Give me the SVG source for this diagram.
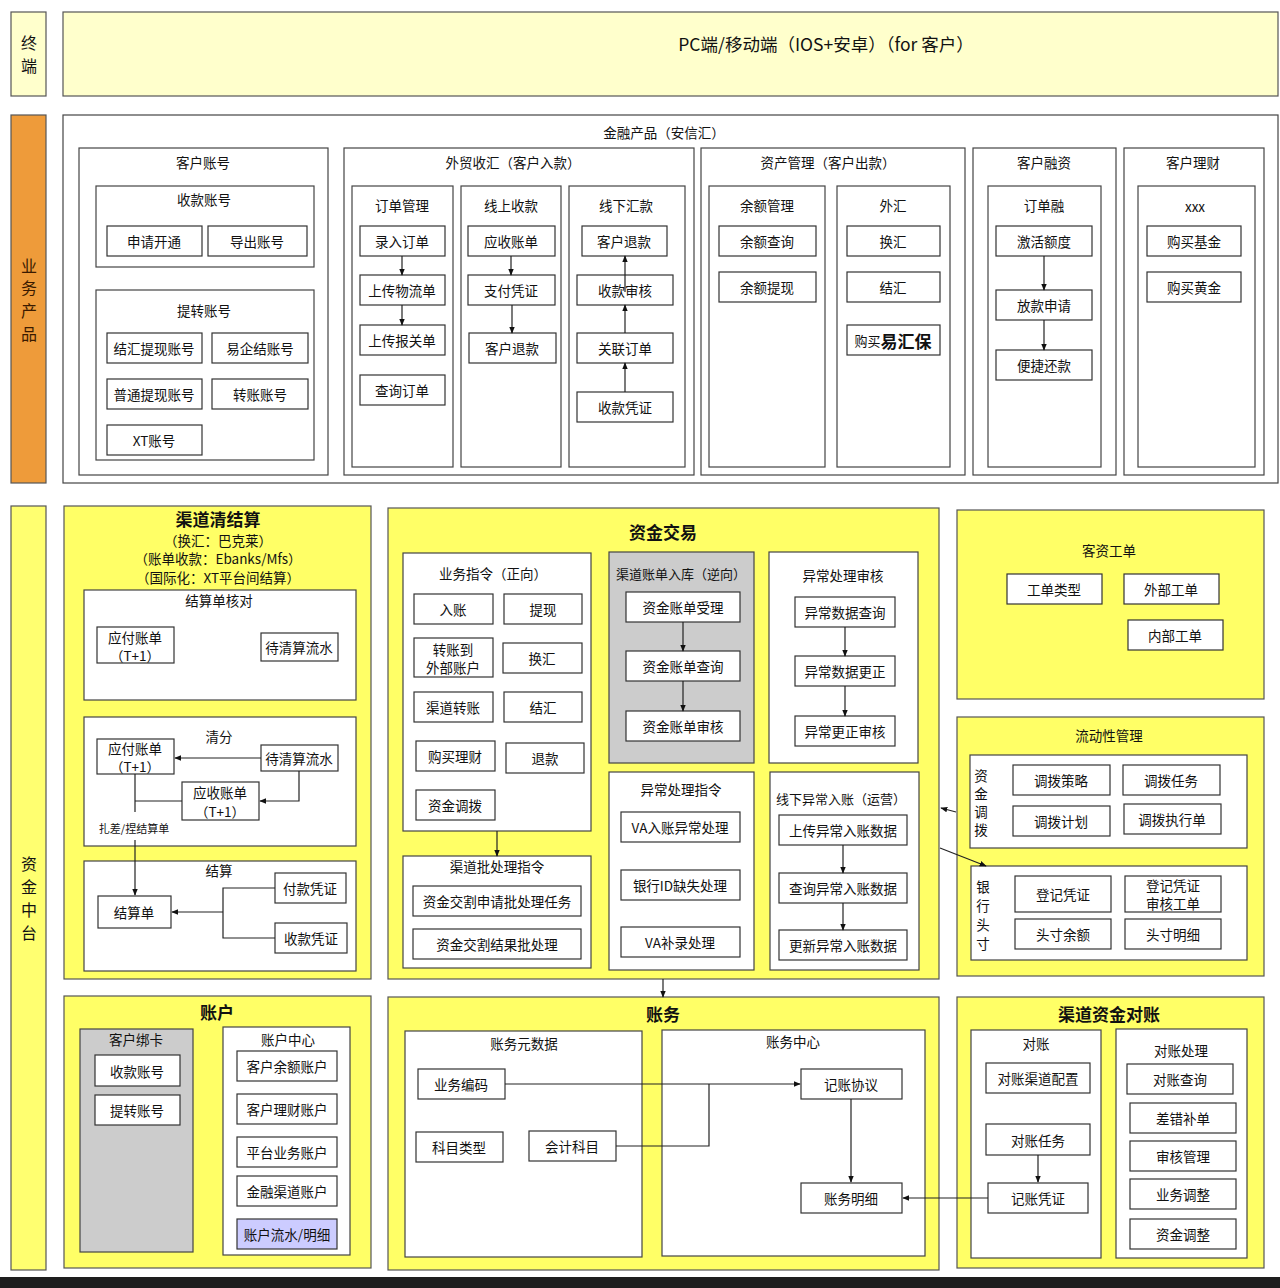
<svg xmlns="http://www.w3.org/2000/svg" width="1280" height="1288" viewBox="0 0 1280 1288">
<defs>
<marker id="ah" viewBox="0 0 10 10" refX="9" refY="5" markerWidth="7" markerHeight="7" orient="auto-start-reverse" markerUnits="userSpaceOnUse"><path d="M0,1 L10,5 L0,9 z" fill="#111"/></marker>
<style>
text{font-family:"Noto Sans CJK SC","Liberation Sans",sans-serif;fill:#111;text-anchor:middle;dominant-baseline:central}
.n{fill:#fff;stroke:#333;stroke-width:1.2}
.w{fill:#fff;stroke:#444;stroke-width:1.2}
.y{fill:#FFFF66;stroke:#555;stroke-width:1.2}
.g{fill:#CCCCCC;stroke:#444;stroke-width:1.2}
.l{font-size:13.5px}
.h{font-size:13.5px}
.big{font-size:17px;font-weight:bold}
.c{fill:none;stroke:#222;stroke-width:1.2;marker-end:url(#ah)}
.cl{fill:none;stroke:#222;stroke-width:1.2}
</style>
</defs>
<rect width="1280" height="1288" fill="#fff"/>

<!-- lane labels -->
<g id="lane-terminal"><rect x="11" y="12" width="35" height="84" fill="#FFFFCC" stroke="#555" stroke-width="1.2"/><text x="29" y="42" style="font-size:16px">终</text><text x="29" y="65" style="font-size:16px">端</text></g>
<g id="lane-business"><rect x="11" y="115" width="35" height="368" fill="#EE9B3A" stroke="#555" stroke-width="1.2"/><text x="29" y="265" style="font-size:16px;fill:#3a1a00">业</text><text x="29" y="287" style="font-size:16px;fill:#3a1a00">务</text><text x="29" y="310" style="font-size:16px;fill:#3a1a00">产</text><text x="29" y="333" style="font-size:16px;fill:#3a1a00">品</text></g>
<g id="lane-fund"><rect x="11" y="506" width="35" height="764" fill="#FFFF70" stroke="#555" stroke-width="1.2"/><text x="29" y="863" style="font-size:16px">资</text><text x="29" y="886" style="font-size:16px">金</text><text x="29" y="909" style="font-size:16px">中</text><text x="29" y="932" style="font-size:16px">台</text></g>

<!-- terminal -->
<g id="terminal"><rect x="63" y="12" width="1215" height="84" fill="#FFFFCC" stroke="#555" stroke-width="1.2"/><text x="826" y="43" style="font-size:17.5px">PC端/移动端（IOS+安卓）（for 客户）</text></g>

<!-- business products -->
<g id="fin-products"><rect x="63" y="115" width="1215" height="368" class="w" stroke="#777"/><text x="664" y="132" class="h">金融产品（安信汇）</text></g>

<g id="cust-account"><rect x="79" y="148" width="249" height="327" class="w"/><text x="203" y="162" class="h">客户账号</text></g>
<g id="recv-account"><rect x="96" y="186" width="218" height="81" class="w"/><text x="204" y="199" class="h">收款账号</text></g>
<g id="n-apply"><rect x="107" y="226" width="95" height="30" class="n"/><text x="154" y="241" class="l">申请开通</text></g>
<g id="n-export"><rect x="208" y="226" width="99" height="30" class="n"/><text x="257" y="241" class="l">导出账号</text></g>
<g id="withdraw-account"><rect x="96" y="290" width="218" height="170" class="w"/><text x="204" y="310" class="h">提转账号</text></g>
<g id="n-jhtx"><rect x="107" y="333" width="95" height="30" class="n"/><text x="154" y="348" class="l">结汇提现账号</text></g>
<g id="n-yqj"><rect x="212" y="333" width="96" height="30" class="n"/><text x="260" y="348" class="l">易企结账号</text></g>
<g id="n-pttx"><rect x="107" y="379" width="95" height="30" class="n"/><text x="154" y="394" class="l">普通提现账号</text></g>
<g id="n-zz"><rect x="212" y="379" width="96" height="30" class="n"/><text x="260" y="394" class="l">转账账号</text></g>
<g id="n-xt"><rect x="107" y="425" width="95" height="30" class="n"/><text x="154" y="440" class="l">XT账号</text></g>

<g id="foreign-trade"><rect x="344" y="148" width="350" height="327" class="w"/><text x="513" y="162" class="h">外贸收汇（客户入款）</text></g>
<g id="order-mgmt"><rect x="352" y="186" width="101" height="281" class="w"/><text x="402" y="205" class="h">订单管理</text></g>
<g id="n-lrdd"><rect x="360" y="226" width="85" height="30" class="n"/><text x="402" y="241" class="l">录入订单</text></g>
<g id="n-scwl"><rect x="360" y="275" width="85" height="30" class="n"/><text x="402" y="290" class="l">上传物流单</text></g>
<g id="n-scbg"><rect x="360" y="325" width="85" height="30" class="n"/><text x="402" y="340" class="l">上传报关单</text></g>
<g id="n-cxdd"><rect x="360" y="375" width="85" height="30" class="n"/><text x="402" y="390" class="l">查询订单</text></g>
<g id="online-recv"><rect x="461" y="186" width="100" height="281" class="w"/><text x="511" y="205" class="h">线上收款</text></g>
<g id="n-yszd"><rect x="468" y="226" width="87" height="30" class="n"/><text x="511" y="241" class="l">应收账单</text></g>
<g id="n-zfpz"><rect x="468" y="275" width="87" height="30" class="n"/><text x="511" y="290" class="l">支付凭证</text></g>
<g id="n-khtk1"><rect x="469" y="333" width="87" height="30" class="n"/><text x="512" y="348" class="l">客户退款</text></g>
<g id="offline-remit"><rect x="569" y="186" width="116" height="281" class="w"/><text x="626" y="205" class="h">线下汇款</text></g>
<g id="n-khtk2"><rect x="582" y="226" width="85" height="30" class="n"/><text x="624" y="241" class="l">客户退款</text></g>
<g id="n-sksh"><rect x="577" y="275" width="96" height="30" class="n"/><text x="625" y="290" class="l">收款审核</text></g>
<g id="n-gldd"><rect x="577" y="333" width="96" height="30" class="n"/><text x="625" y="348" class="l">关联订单</text></g>
<g id="n-skpz"><rect x="577" y="392" width="96" height="30" class="n"/><text x="625" y="407" class="l">收款凭证</text></g>

<g id="asset-mgmt"><rect x="701" y="148" width="264" height="327" class="w"/><text x="828" y="162" class="h">资产管理（客户出款）</text></g>
<g id="balance-mgmt"><rect x="709" y="186" width="116" height="281" class="w"/><text x="767" y="205" class="h">余额管理</text></g>
<g id="n-yecx"><rect x="719" y="226" width="97" height="30" class="n"/><text x="767" y="241" class="l">余额查询</text></g>
<g id="n-yetx"><rect x="719" y="272" width="97" height="30" class="n"/><text x="767" y="287" class="l">余额提现</text></g>
<g id="fx"><rect x="837" y="186" width="113" height="281" class="w"/><text x="893" y="205" class="h">外汇</text></g>
<g id="n-hh"><rect x="847" y="226" width="93" height="30" class="n"/><text x="893" y="241" class="l">换汇</text></g>
<g id="n-jh"><rect x="847" y="272" width="93" height="30" class="n"/><text x="893" y="287" class="l">结汇</text></g>
<g id="n-yhb"><rect x="847" y="325" width="93" height="30" class="n"/><text x="893" y="340"><tspan style="font-size:13px">购买</tspan><tspan style="font-size:17px;font-weight:bold">易汇保</tspan></text></g>

<g id="cust-finance"><rect x="973" y="148" width="143" height="327" class="w"/><text x="1044" y="162" class="h">客户融资</text></g>
<g id="order-fin"><rect x="988" y="186" width="113" height="281" class="w"/><text x="1044" y="205" class="h">订单融</text></g>
<g id="n-jhed"><rect x="996" y="226" width="96" height="30" class="n"/><text x="1044" y="241" class="l">激活额度</text></g>
<g id="n-fksq"><rect x="996" y="290" width="96" height="30" class="n"/><text x="1044" y="305" class="l">放款申请</text></g>
<g id="n-bjhk"><rect x="996" y="350" width="96" height="30" class="n"/><text x="1044" y="365" class="l">便捷还款</text></g>

<g id="cust-wealth"><rect x="1124" y="148" width="140" height="327" class="w"/><text x="1193" y="162" class="h">客户理财</text></g>
<g id="xxx"><rect x="1138" y="186" width="117" height="281" class="w"/><text x="1195" y="206" class="h">xxx</text></g>
<g id="n-mmjj"><rect x="1147" y="226" width="94" height="30" class="n"/><text x="1194" y="241" class="l">购买基金</text></g>
<g id="n-mmhj"><rect x="1147" y="272" width="94" height="30" class="n"/><text x="1194" y="287" class="l">购买黄金</text></g>

<!-- 渠道清结算 -->
<g id="clearing"><rect x="64" y="506" width="307" height="473" class="y"/>
<text x="218" y="518" class="big">渠道清结算</text>
<text x="218" y="540" style="font-size:13.5px">（换汇：巴克莱）</text>
<text x="218" y="558" style="font-size:13.5px">（账单收款：Ebanks/Mfs）</text>
<text x="218" y="577" style="font-size:13.5px">（国际化：XT平台间结算）</text></g>
<g id="settle-check"><rect x="84" y="590" width="272" height="110" class="w"/><text x="219" y="600" class="h">结算单核对</text></g>
<g id="n-yfzd1"><rect x="97" y="627" width="77" height="36" class="n"/><text x="135" y="637" class="l">应付账单</text><text x="135" y="655" class="l">（T+1）</text></g>
<g id="n-dqs1"><rect x="261" y="633" width="77" height="28" class="n"/><text x="299" y="647" class="l">待清算流水</text></g>
<g id="clearing-split"><rect x="84" y="717" width="272" height="129" class="w"/><text x="219" y="736" class="h">清分</text></g>
<g id="n-yfzd2"><rect x="97" y="739" width="77" height="35" class="n"/><text x="135" y="748" class="l">应付账单</text><text x="135" y="766" class="l">（T+1）</text></g>
<g id="n-dqs2"><rect x="261" y="745" width="77" height="26" class="n"/><text x="299" y="758" class="l">待清算流水</text></g>
<g id="n-yszd2"><rect x="182" y="782" width="77" height="38" class="n"/><text x="220" y="792" class="l">应收账单</text><text x="220" y="811" class="l">（T+1）</text></g>
<text x="134" y="828" style="font-size:11px">扎差/捏结算单</text>
<g id="settle"><rect x="84" y="861" width="272" height="110" class="w"/><text x="219" y="870" class="h">结算</text></g>
<g id="n-jsd"><rect x="98" y="896" width="73" height="32" class="n"/><text x="134" y="912" class="l">结算单</text></g>
<g id="n-fkpz"><rect x="275" y="873" width="71" height="30" class="n"/><text x="310" y="888" class="l">付款凭证</text></g>
<g id="n-skpz2"><rect x="275" y="923" width="72" height="30" class="n"/><text x="311" y="938" class="l">收款凭证</text></g>

<!-- 资金交易 -->
<g id="fund-trade"><rect x="388" y="508" width="551" height="471" class="y"/><text x="663" y="531" class="big">资金交易</text></g>
<g id="biz-cmd"><rect x="403" y="553" width="188" height="278" class="w"/><text x="493" y="573" class="h">业务指令（正向）</text></g>
<g id="n-rz"><rect x="414" y="594" width="79" height="30" class="n"/><text x="453" y="609" class="l">入账</text></g>
<g id="n-tx"><rect x="504" y="594" width="78" height="30" class="n"/><text x="543" y="609" class="l">提现</text></g>
<g id="n-zzdwb"><rect x="414" y="638" width="79" height="39" class="n"/><text x="453" y="649" class="l">转账到</text><text x="453" y="667" class="l">外部账户</text></g>
<g id="n-hh2"><rect x="503" y="643" width="79" height="30" class="n"/><text x="542" y="658" class="l">换汇</text></g>
<g id="n-qdzz"><rect x="414" y="692" width="79" height="30" class="n"/><text x="453" y="707" class="l">渠道转账</text></g>
<g id="n-jh2"><rect x="504" y="692" width="78" height="30" class="n"/><text x="543" y="707" class="l">结汇</text></g>
<g id="n-gmlc"><rect x="416" y="741" width="79" height="30" class="n"/><text x="455" y="756" class="l">购买理财</text></g>
<g id="n-tk"><rect x="506" y="743" width="78" height="30" class="n"/><text x="545" y="758" class="l">退款</text></g>
<g id="n-zjdb"><rect x="416" y="790" width="79" height="30" class="n"/><text x="455" y="805" class="l">资金调拨</text></g>
<g id="batch-cmd"><rect x="403" y="856" width="188" height="112" class="w"/><text x="497" y="866" class="h">渠道批处理指令</text></g>
<g id="n-jgsq"><rect x="413" y="886" width="168" height="30" class="n"/><text x="497" y="901" class="l">资金交割申请批处理任务</text></g>
<g id="n-jgjg"><rect x="413" y="929" width="168" height="30" class="n"/><text x="497" y="944" class="l">资金交割结果批处理</text></g>
<g id="channel-bill"><rect x="609" y="552" width="145" height="211" class="g"/><text x="681" y="573" style="font-size:13px">渠道账单入库（逆向）</text></g>
<g id="n-zdsl"><rect x="626" y="592" width="114" height="30" class="n"/><text x="683" y="607" class="l">资金账单受理</text></g>
<g id="n-zdcx"><rect x="626" y="651" width="114" height="30" class="n"/><text x="683" y="666" class="l">资金账单查询</text></g>
<g id="n-zdsh"><rect x="626" y="711" width="114" height="30" class="n"/><text x="683" y="726" class="l">资金账单审核</text></g>
<g id="exc-audit"><rect x="769" y="552" width="149" height="211" class="w"/><text x="843" y="575" class="h">异常处理审核</text></g>
<g id="n-yccx"><rect x="795" y="597" width="100" height="30" class="n"/><text x="845" y="612" class="l">异常数据查询</text></g>
<g id="n-ycgz"><rect x="795" y="656" width="100" height="30" class="n"/><text x="845" y="671" class="l">异常数据更正</text></g>
<g id="n-ycsh"><rect x="795" y="716" width="100" height="30" class="n"/><text x="845" y="731" class="l">异常更正审核</text></g>
<g id="exc-cmd"><rect x="609" y="772" width="145" height="198" class="w"/><text x="681" y="789" class="h">异常处理指令</text></g>
<g id="n-vayc"><rect x="621" y="812" width="119" height="30" class="n"/><text x="680" y="827" class="l">VA入账异常处理</text></g>
<g id="n-yhid"><rect x="621" y="870" width="119" height="30" class="n"/><text x="680" y="885" class="l">银行ID缺失处理</text></g>
<g id="n-vabl"><rect x="621" y="927" width="119" height="30" class="n"/><text x="680" y="942" class="l">VA补录处理</text></g>
<g id="offline-exc"><rect x="770" y="772" width="149" height="198" class="w"/><text x="841" y="798" style="font-size:13px">线下异常入账（运营）</text></g>
<g id="n-scyc"><rect x="779" y="815" width="128" height="30" class="n"/><text x="843" y="830" class="l">上传异常入账数据</text></g>
<g id="n-cxyc"><rect x="779" y="873" width="128" height="30" class="n"/><text x="843" y="888" class="l">查询异常入账数据</text></g>
<g id="n-gxyc"><rect x="779" y="930" width="128" height="30" class="n"/><text x="843" y="945" class="l">更新异常入账数据</text></g>

<!-- 客资工单 -->
<g id="ticket"><rect x="957" y="510" width="307" height="189" class="y"/><text x="1109" y="550" class="h">客资工单</text></g>
<g id="n-gdlx"><rect x="1007" y="574" width="95" height="30" class="n"/><text x="1054" y="589" class="l">工单类型</text></g>
<g id="n-wbgd"><rect x="1124" y="574" width="95" height="30" class="n"/><text x="1171" y="589" class="l">外部工单</text></g>
<g id="n-nbgd"><rect x="1128" y="620" width="95" height="30" class="n"/><text x="1175" y="635" class="l">内部工单</text></g>

<!-- 流动性管理 -->
<g id="liquidity"><rect x="957" y="717" width="307" height="259" class="y"/><text x="1109" y="735" class="h">流动性管理</text></g>
<g id="fund-alloc"><rect x="970" y="755" width="277" height="93" class="w"/><text x="981" y="775" class="l">资</text><text x="981" y="793" class="l">金</text><text x="981" y="811" class="l">调</text><text x="981" y="829" class="l">拨</text></g>
<g id="n-dbcl"><rect x="1013" y="765" width="97" height="30" class="n"/><text x="1061" y="780" class="l">调拨策略</text></g>
<g id="n-dbrw"><rect x="1123" y="765" width="97" height="30" class="n"/><text x="1171" y="780" class="l">调拨任务</text></g>
<g id="n-dbjh"><rect x="1013" y="806" width="97" height="30" class="n"/><text x="1061" y="821" class="l">调拨计划</text></g>
<g id="n-dbzx"><rect x="1124" y="804" width="97" height="30" class="n"/><text x="1172" y="819" class="l">调拨执行单</text></g>
<g id="bank-pos"><rect x="971" y="866" width="276" height="94" class="w"/><text x="983" y="886" class="l">银</text><text x="983" y="905" class="l">行</text><text x="983" y="924" class="l">头</text><text x="983" y="943" class="l">寸</text></g>
<g id="n-djpz"><rect x="1015" y="876" width="96" height="36" class="n"/><text x="1063" y="894" class="l">登记凭证</text></g>
<g id="n-djsh"><rect x="1125" y="876" width="96" height="36" class="n"/><text x="1173" y="885" class="l">登记凭证</text><text x="1173" y="903" class="l">审核工单</text></g>
<g id="n-tcye"><rect x="1015" y="919" width="96" height="30" class="n"/><text x="1063" y="934" class="l">头寸余额</text></g>
<g id="n-tcmx"><rect x="1125" y="919" width="96" height="30" class="n"/><text x="1173" y="934" class="l">头寸明细</text></g>

<!-- 账户 -->
<g id="account"><rect x="64" y="996" width="307" height="272" class="y"/><text x="217" y="1011" class="big">账户</text></g>
<g id="bind-card"><rect x="80" y="1029" width="113" height="223" class="g"/><text x="136" y="1039" class="h">客户绑卡</text></g>
<g id="n-skzh2"><rect x="95" y="1055" width="85" height="31" class="n"/><text x="137" y="1071" class="l">收款账号</text></g>
<g id="n-tzzh2"><rect x="95" y="1095" width="85" height="30" class="n"/><text x="137" y="1110" class="l">提转账号</text></g>
<g id="acct-center"><rect x="223" y="1027" width="127" height="228" class="w"/><text x="288" y="1039" class="h">账户中心</text></g>
<g id="n-khye"><rect x="237" y="1051" width="100" height="30" class="n"/><text x="287" y="1066" class="l">客户余额账户</text></g>
<g id="n-khlc"><rect x="237" y="1094" width="100" height="30" class="n"/><text x="287" y="1109" class="l">客户理财账户</text></g>
<g id="n-ptyw"><rect x="237" y="1137" width="100" height="30" class="n"/><text x="287" y="1152" class="l">平台业务账户</text></g>
<g id="n-jrqd"><rect x="237" y="1176" width="100" height="30" class="n"/><text x="287" y="1191" class="l">金融渠道账户</text></g>
<g id="n-zhls"><rect x="237" y="1219" width="100" height="30" fill="#CCCCFF" stroke="#333" stroke-width="1.2"/><text x="287" y="1234" class="l">账户流水/明细</text></g>

<!-- 账务 -->
<g id="ledger"><rect x="388" y="997" width="551" height="273" class="y"/><text x="663" y="1013" class="big">账务</text></g>
<g id="ledger-meta"><rect x="405" y="1031" width="237" height="226" class="w"/><text x="524" y="1043" class="h">账务元数据</text></g>
<g id="n-ywbm"><rect x="418" y="1069" width="87" height="30" class="n"/><text x="461" y="1084" class="l">业务编码</text></g>
<g id="n-kmlx"><rect x="416" y="1132" width="87" height="30" class="n"/><text x="459" y="1147" class="l">科目类型</text></g>
<g id="n-kjkm"><rect x="529" y="1131" width="87" height="30" class="n"/><text x="572" y="1146" class="l">会计科目</text></g>
<g id="ledger-center"><rect x="662" y="1030" width="263" height="226" class="w"/><text x="793" y="1041" class="h">账务中心</text></g>
<g id="n-jzxy"><rect x="801" y="1069" width="101" height="30" class="n"/><text x="851" y="1084" class="l">记账协议</text></g>
<g id="n-zwmx"><rect x="801" y="1183" width="101" height="30" class="n"/><text x="851" y="1198" class="l">账务明细</text></g>

<!-- 渠道资金对账 -->
<g id="recon"><rect x="957" y="997" width="307" height="271" class="y"/><text x="1109" y="1013" class="big">渠道资金对账</text></g>
<g id="recon-a"><rect x="971" y="1030" width="130" height="228" class="w"/><text x="1036" y="1043" class="h">对账</text></g>
<g id="n-dzqd"><rect x="986" y="1063" width="104" height="30" class="n"/><text x="1038" y="1078" class="l">对账渠道配置</text></g>
<g id="n-dzrw"><rect x="986" y="1124" width="104" height="31" class="n"/><text x="1038" y="1140" class="l">对账任务</text></g>
<g id="n-jzpz"><rect x="988" y="1183" width="100" height="30" class="n"/><text x="1038" y="1198" class="l">记账凭证</text></g>
<g id="recon-proc"><rect x="1116" y="1029" width="131" height="229" class="w"/><text x="1181" y="1050" class="h">对账处理</text></g>
<g id="n-dzcx"><rect x="1127" y="1064" width="106" height="30" class="n"/><text x="1180" y="1079" class="l">对账查询</text></g>
<g id="n-ccbd"><rect x="1130" y="1103" width="106" height="30" class="n"/><text x="1183" y="1118" class="l">差错补单</text></g>
<g id="n-shgl"><rect x="1130" y="1141" width="106" height="30" class="n"/><text x="1183" y="1156" class="l">审核管理</text></g>
<g id="n-ywtz"><rect x="1130" y="1179" width="106" height="30" class="n"/><text x="1183" y="1194" class="l">业务调整</text></g>
<g id="n-zjtz"><rect x="1130" y="1219" width="106" height="30" class="n"/><text x="1183" y="1234" class="l">资金调整</text></g>

<!-- connectors -->
<g id="connectors">
<path class="c" d="M402,256 V275"/>
<path class="c" d="M402,305 V325"/>
<path class="c" d="M511,256 V275"/>
<path class="c" d="M512,305 V333"/>
<path class="c" d="M625,292 V256"/>
<path class="c" d="M625,333 V305"/>
<path class="c" d="M625,392 V363"/>
<path class="c" d="M1044,256 V290"/>
<path class="c" d="M1044,320 V350"/>
<path class="c" d="M261,758 H175"/>
<path class="c" d="M299,771 V801 H260"/>
<path class="cl" d="M135,774 V812"/>
<path class="cl" d="M182,801 H135"/>
<path class="c" d="M135,840 V895"/>
<path class="cl" d="M275,888 H223 V938 H275"/>
<path class="c" d="M223,912 H172"/>
<path class="c" d="M497,831 V856"/>
<path class="c" d="M683,622 V651"/>
<path class="c" d="M683,681 V711"/>
<path class="c" d="M845,627 V656"/>
<path class="c" d="M845,686 V716"/>
<path class="c" d="M843,845 V873"/>
<path class="c" d="M843,903 V930"/>
<path class="c" d="M956,812 L941,808"/>
<path class="c" d="M940,848 L986,866"/>
<path class="c" d="M663,979 V997"/>
<path class="c" d="M505,1084 H800"/>
<path class="cl" d="M616,1146 H709 V1084"/>
<path class="c" d="M851,1099 V1182"/>
<path class="c" d="M988,1198 H903"/>
<path class="c" d="M1038,1155 V1182"/>
</g>

<rect x="0" y="1277" width="1280" height="11" fill="#1e1e1e"/>
</svg>
